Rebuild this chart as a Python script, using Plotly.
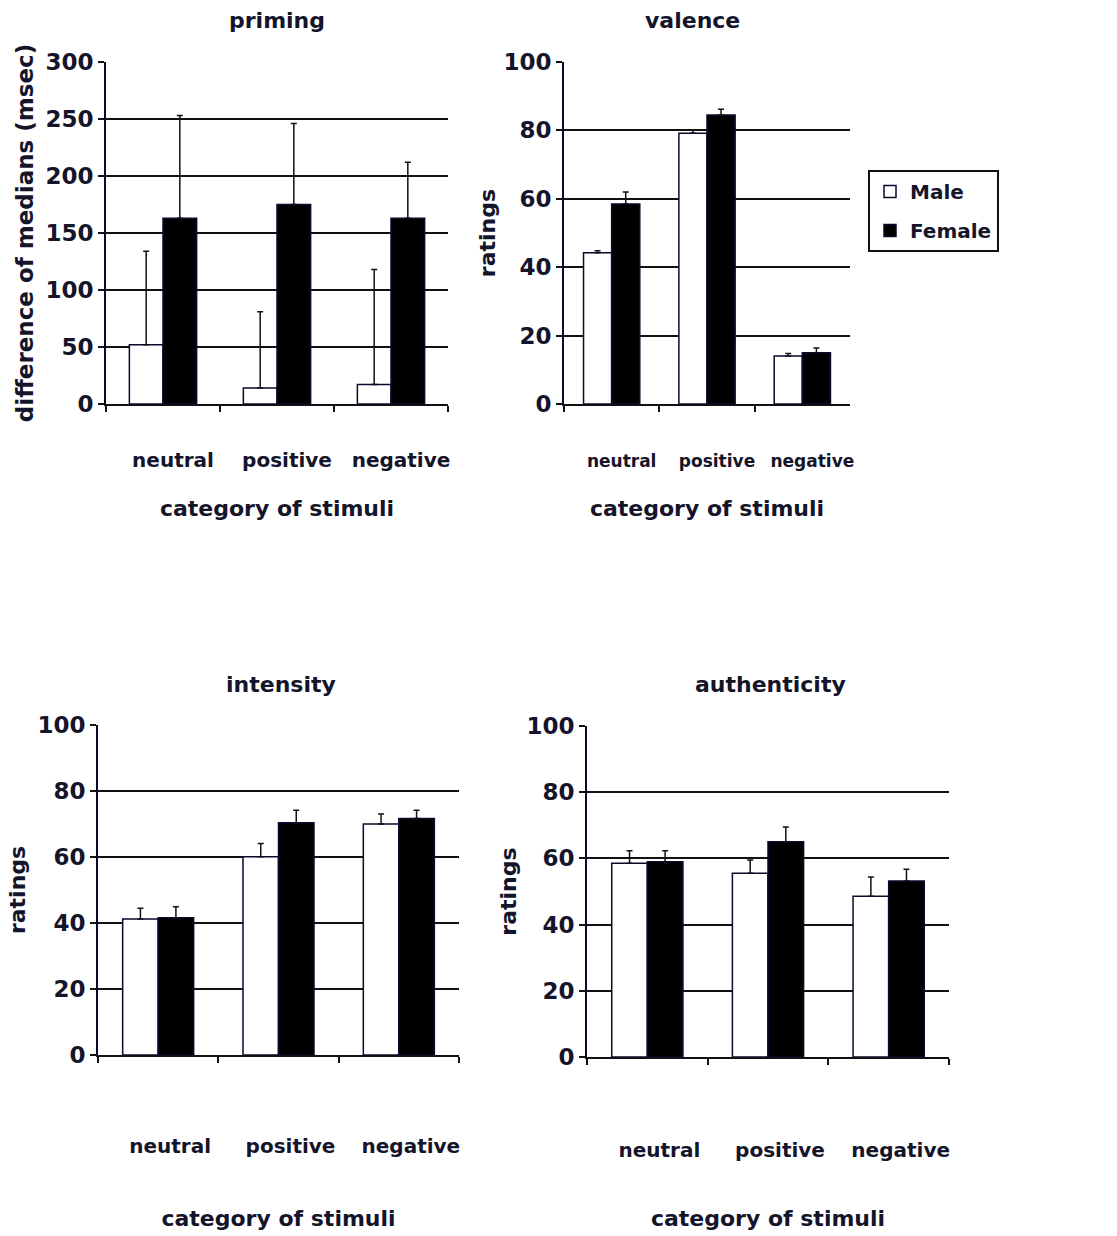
import plotly.graph_objects as go

categories = ["neutral", "positive", "negative"]

priming_male = [52, 14, 17]
priming_female = [163, 175, 163]
priming_male_err = [82, 67, 101]
priming_female_err = [90, 71, 49]

valence_male = [44.2, 79.2, 14.0]
valence_female = [58.5, 84.5, 15.0]
valence_male_err = [0.6, 1.0, 0.8]
valence_female_err = [3.5, 1.7, 1.4]

intensity_male = [41.2, 60.1, 70.0]
intensity_female = [41.6, 70.4, 71.7]
intensity_male_err = [3.3, 4.0, 3.0]
intensity_female_err = [3.3, 3.8, 2.5]

authenticity_male = [58.5, 55.5, 48.6]
authenticity_female = [59.0, 65.0, 53.2]
authenticity_male_err = [3.8, 4.0, 5.8]
authenticity_female_err = [3.3, 4.5, 3.5]

priming_ticks = [0, 50, 100, 150, 200, 250, 300]
rating_ticks = [0, 20, 40, 60, 80, 100]

W, H = 1117, 1236
FONT = "DejaVu Sans, Verdana, sans-serif"
INK = "#14142a"

panels = [
    dict(title="priming", ytitle="difference of medians (msec)", male=priming_male, female=priming_female,
         merr=priming_male_err, ferr=priming_female_err, ymax=300, ticks=priming_ticks,
         px=(106, 448), py=(62, 404), tpos=(277, 20), catsize=20, catstand=37, titlestand=30,
         ystand=5, shift=10, ysize=23),
    dict(title="valence", ytitle="ratings", male=valence_male, female=valence_female,
         merr=valence_male_err, ferr=valence_female_err, ymax=100, ticks=rating_ticks,
         px=(564, 850), py=(62, 404), tpos=(692, 20), catsize=17, catstand=41, titlestand=30,
         ystand=2, shift=10, ysize=22),
    dict(title="intensity", ytitle="ratings", male=intensity_male, female=intensity_female,
         merr=intensity_male_err, ferr=intensity_female_err, ymax=100, ticks=rating_ticks,
         px=(98, 459), py=(725, 1055), tpos=(281, 684), catsize=20, catstand=72, titlestand=54,
         ystand=6, shift=12, ysize=22),
    dict(title="authenticity", ytitle="ratings", male=authenticity_male, female=authenticity_female,
         merr=authenticity_male_err, ferr=authenticity_female_err, ymax=100, ticks=rating_ticks,
         px=(587, 949), py=(726, 1057), tpos=(770, 684), catsize=20, catstand=74, titlestand=50,
         ystand=4, shift=12, ysize=22),
]

fig = go.Figure()
layout = dict(
    template="none",
    width=W, height=H, margin=dict(l=0, r=0, t=0, b=0, autoexpand=False),
    paper_bgcolor="white", plot_bgcolor="white",
    barmode="group", bargap=0.41, bargroupgap=0,
    font=dict(family=FONT, color=INK),
    showlegend=True,
    legend=dict(x=868 / W, y=1 - 170 / H, xanchor="left", yanchor="top",
                bordercolor="#111", borderwidth=2, bgcolor="white",
                font=dict(size=20, family=FONT, color=INK, weight="bold"),
                tracegroupgap=10),
)
annotations = []

for i, p in enumerate(panels):
    n = "" if i == 0 else str(i + 1)
    xa, ya = "x" + n, "y" + n
    for name, vals, errs, fill in [("Male", p["male"], p["merr"], "white"),
                                   ("Female", p["female"], p["ferr"], "black")]:
        fig.add_trace(go.Bar(
            x=categories, y=vals, name=name, xaxis=xa, yaxis=ya,
            marker=dict(color=fill, line=dict(color="#0a0a30", width=1.5)),
            error_y=dict(type="data", array=errs, arrayminus=[0] * len(errs), symmetric=False,
                         color="#111", thickness=1.5, width=3),
            showlegend=(i == 0), legendgroup=name,
        ))
    x0, x1 = p["px"]
    y0, y1 = p["py"]
    layout["xaxis" + n] = dict(
        domain=[x0 / W, x1 / W], anchor=ya, type="category", automargin=False,
        showline=True, linecolor="#111", linewidth=2, tickangle=0,
        ticks="outside", tickson="boundaries", ticklen=6, tickwidth=2, tickcolor="#111",
        tickfont=dict(size=p["catsize"], family=FONT, color=INK, weight="bold"),
        ticklabelstandoff=p["catstand"], ticklabelshift=p["shift"],
        showgrid=False,
        title=dict(text="category of stimuli", font=dict(size=22, family=FONT, color=INK, weight="bold"),
                   standoff=p["titlestand"]),
    )
    layout["yaxis" + n] = dict(
        domain=[1 - y1 / H, 1 - y0 / H], anchor=xa, range=[0, p["ymax"]], automargin=False,
        tickvals=p["ticks"], showline=True, linecolor="#0a0a30", linewidth=2,
        ticks="outside", ticklen=6, tickwidth=2, tickcolor="#111",
        tickfont=dict(size=23, family=FONT, color=INK, weight="bold"),
        showgrid=True, gridcolor="#111", gridwidth=2, zeroline=False,
        title=dict(text=p["ytitle"], font=dict(size=p["ysize"], family=FONT, color=INK, weight="bold"),
                   standoff=p["ystand"]),
    )
    tx, ty = p["tpos"]
    annotations.append(dict(
        text=p["title"], x=tx / W, y=1 - ty / H, xref="paper", yref="paper",
        showarrow=False, font=dict(size=22, family=FONT, color=INK, weight="bold"),
        xanchor="center", yanchor="middle"))

layout["annotations"] = annotations
fig.update_layout(**layout)
fig.write_html("out.html", config={"displayModeBar": False},
               post_script="document.body.style.margin='0';document.body.style.overflow='hidden';")
